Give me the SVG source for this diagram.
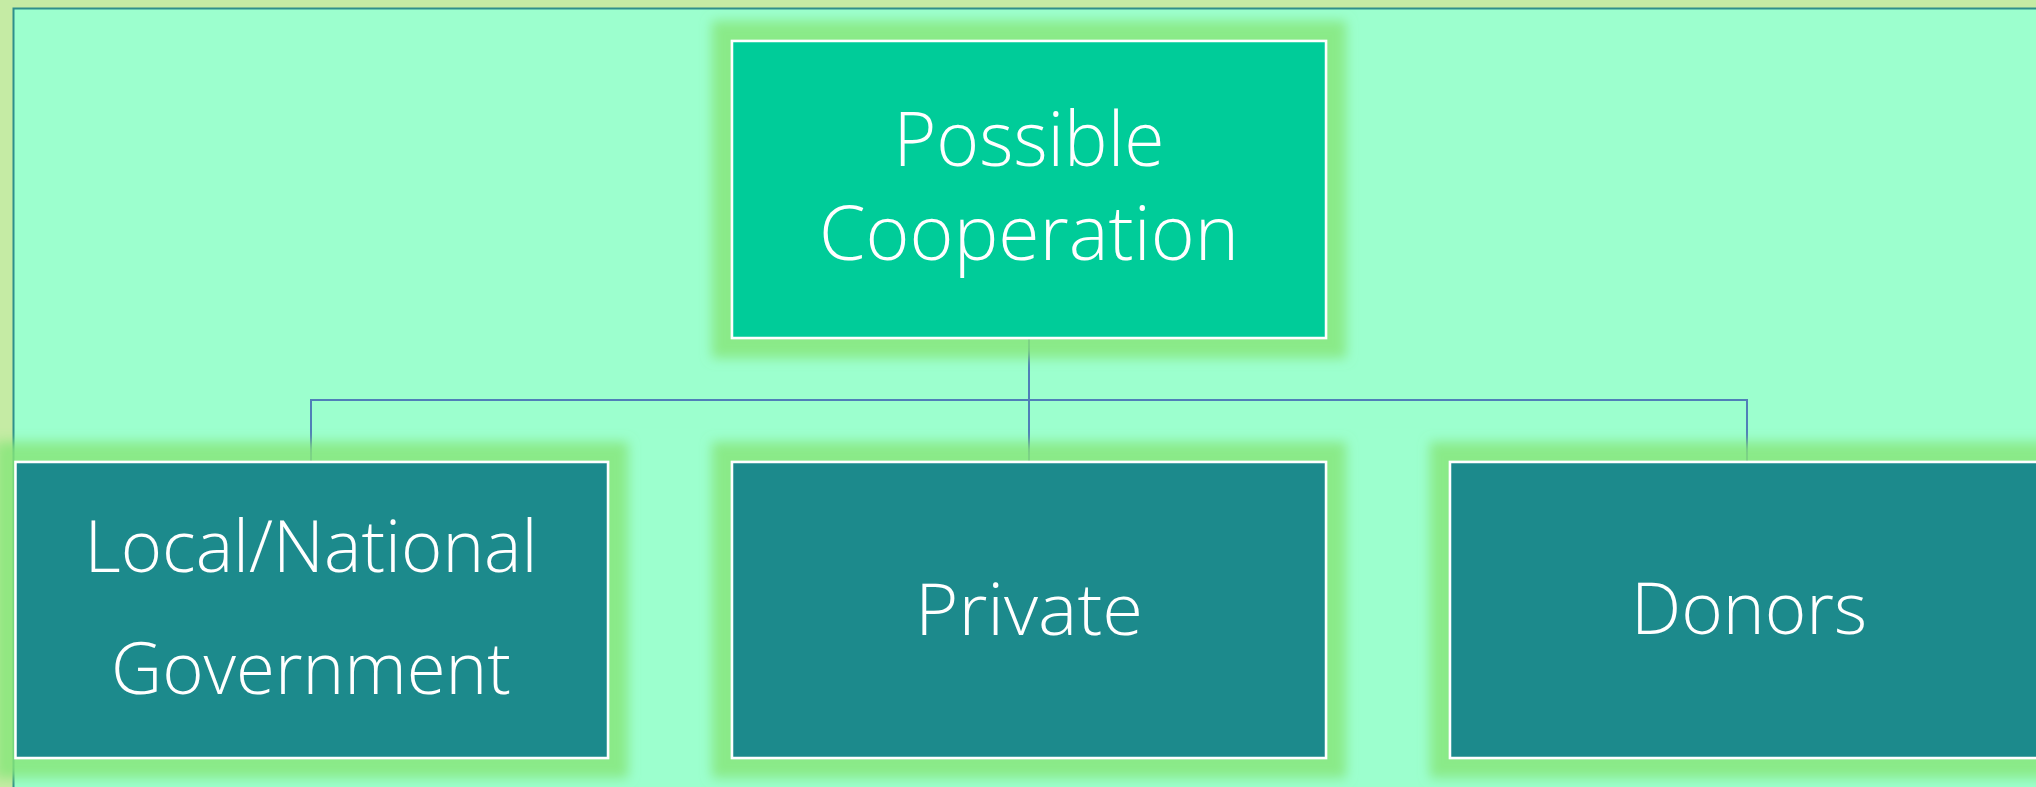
<svg xmlns="http://www.w3.org/2000/svg" width="2036" height="787" viewBox="0 0 2036 787">
<defs>
<filter id="glow" x="-20%" y="-30%" width="140%" height="160%">
<feMorphology in="SourceAlpha" operator="dilate" radius="19" result="d"/>
<feGaussianBlur in="d" stdDeviation="6" result="b"/>
<feFlood flood-color="#86E679" flood-opacity="0.82"/>
<feComposite in2="b" operator="in" result="g"/>
<feMerge><feMergeNode in="g"/><feMergeNode in="SourceGraphic"/></feMerge>
</filter>
</defs>
<style>
.top{fill:#00CC99;stroke:#FFFFFF;stroke-width:2.5}
.sub{fill:#1F8A8C;stroke:#FFFFFF;stroke-width:2.5}
.lbl{font-family:"Open Sans","Noto Sans","Liberation Sans",sans-serif;font-weight:300;fill:#FFFFFF;text-anchor:middle}
.conn{fill:none;stroke:#4F7FB8;stroke-width:2}
</style>
<rect x="0" y="0" width="2036" height="787" fill="#C5EBA4"/>
<rect x="13.5" y="8.5" width="2100" height="900" fill="#9CFFCE" stroke="#2F8F8C" stroke-width="2"/>
<g id="connectors">
<path class="conn" d="M1029 338 V400"/>
<path class="conn" d="M311 462 V400 H1747 V462"/>
<path class="conn" d="M1029 400 V462"/>
</g>
<g id="node-possible-cooperation" filter="url(#glow)">
<rect class="top" x="732" y="41" width="594" height="297"/>
<text class="lbl" x="1029" y="166" font-size="75" textLength="271" lengthAdjust="spacingAndGlyphs">Possible</text>
<text class="lbl" x="1029" y="260" font-size="75" textLength="420" lengthAdjust="spacingAndGlyphs">Cooperation</text>
</g>
<g id="node-local-national-government" filter="url(#glow)">
<rect class="sub" x="15.5" y="462" width="592.5" height="296"/>
<text class="lbl" x="311" y="572" font-size="72" textLength="453" lengthAdjust="spacingAndGlyphs">Local/National</text>
<text class="lbl" x="311" y="694" font-size="72" textLength="400" lengthAdjust="spacingAndGlyphs">Government</text>
</g>
<g id="node-private" filter="url(#glow)">
<rect class="sub" x="732" y="462" width="594" height="296"/>
<text class="lbl" x="1029" y="635" font-size="72" textLength="228" lengthAdjust="spacingAndGlyphs">Private</text>
</g>
<g id="node-donors" filter="url(#glow)">
<rect class="sub" x="1450" y="462" width="594" height="296"/>
<text class="lbl" x="1749" y="634" font-size="72" textLength="236" lengthAdjust="spacingAndGlyphs">Donors</text>
</g>
</svg>
